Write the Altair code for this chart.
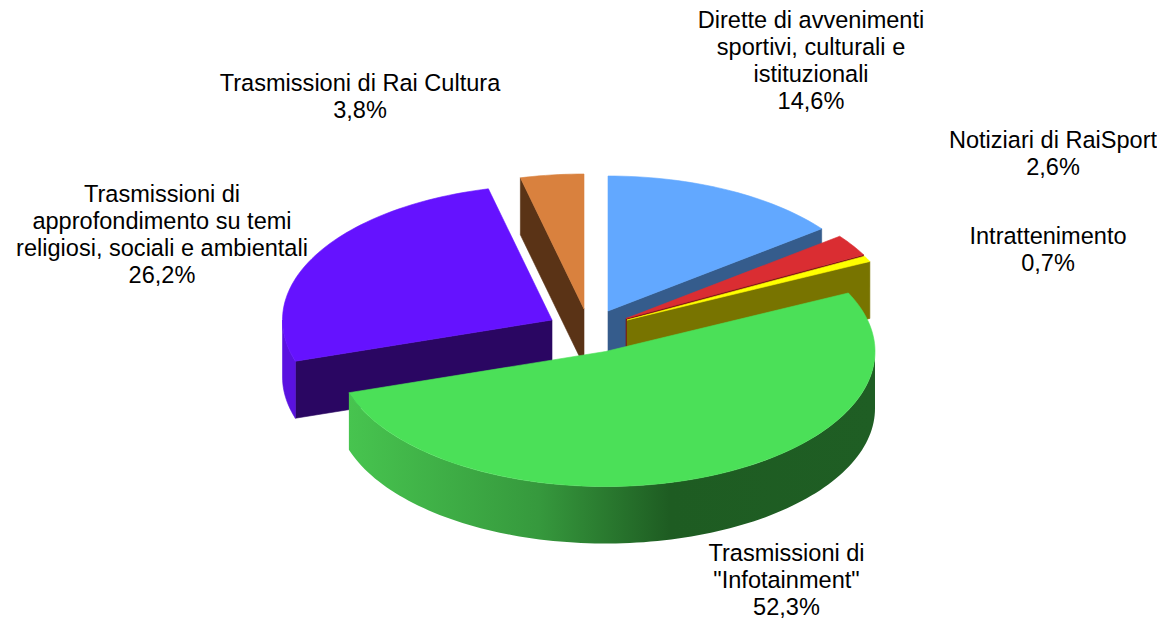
import math
import altair as alt
import pandas as pd

# ---------- data ----------
names = [
    "Dirette di avvenimenti\nsportivi, culturali e\nistituzionali",
    "Notiziari di RaiSport",
    "Intrattenimento",
    'Trasmissioni di\n"Infotainment"',
    "Trasmissioni di\napprofondimento su temi\nreligiosi, sociali e ambientali",
    "Trasmissioni di Rai Cultura",
]
shares = [14.6, 2.6, 0.7, 52.3, 26.2, 3.8]

# ---------- layout (page pixels) ----------
W, H = 1149, 611
RX, RY, DEPTH = 269.5, 135, 57
apex = [(608, 311), (626, 318.5), (627, 320), (605.5, 351.5), (552, 320), (584, 309)]
top_col = ["#62A8FF", "#DA2D32", "#FFFF00", "#4BE058", "#6512FF", "#D9813E"]
cut_col = ["#355C8C", "#7A0F14", "#787400", "#1F5E24", "#2A0662", "#5A3316"]
label_xy = [(811, 8.5), (1053, 129), (1048, 225), (786.5, 542), (162, 183), (360, 72)]

green_grad = alt.Gradient(
    gradient="linear", x1=0, x2=1, y1=0, y2=0,
    stops=[
        alt.GradientStop(color="#47C44F", offset=0),
        alt.GradientStop(color="#36993D", offset=0.36),
        alt.GradientStop(color="#1E5C22", offset=0.61),
        alt.GradientStop(color="#1F5E24", offset=1),
    ],
)

# ---------- slice angles ----------
angles = []
run = 0.0
total = sum(shares)
for s in shares:
    angles.append((run / total * 360, (run + s) / total * 360))
    run += s


def rim(i, deg, dy=0.0):
    a = math.radians(deg)
    return (apex[i][0] + RX * math.sin(a), apex[i][1] - RY * math.cos(a) + dy)


def arc(i, a0, a1, dy=0.0):
    n = max(2, int(abs(a1 - a0) / 1.5) + 2)
    return [rim(i, a0 + (a1 - a0) * k / (n - 1), dy) for k in range(n)]


def top_poly(i):
    return [apex[i]] + arc(i, *angles[i]) + [apex[i]]


def cut_poly(i, deg):
    p, q = apex[i], rim(i, deg)
    return [p, q, (q[0], q[1] + DEPTH), (p[0], p[1] + DEPTH), p]


def wall_poly(i, a0, a1):
    pts = arc(i, a0, a1) + arc(i, a1, a0, DEPTH)
    return pts + [pts[0]]


x_scale = alt.Scale(domain=[8, 8 + W], nice=False, zero=False)
y_scale = alt.Scale(domain=[8 + H, 8], nice=False, zero=False)


def piece(pts, fill, line_width=0.6):
    df = pd.DataFrame({"px": [p[0] for p in pts], "py": [p[1] for p in pts], "k": range(len(pts))})
    opts = dict(fill=fill, strokeWidth=line_width)
    if isinstance(fill, str):
        opts["stroke"] = fill
    return alt.Chart(df).mark_line(**opts).encode(
        x=alt.X("px:Q", scale=x_scale, axis=None),
        y=alt.Y("py:Q", scale=y_scale, axis=None),
        order=alt.Order("k:Q"),
    )


layers = []
# Rai Cultura: left cut face + top
layers += [piece(cut_poly(5, angles[5][0]), cut_col[5]), piece(top_poly(5), top_col[5])]
# Approfondimento: cut face, outer wall, top
layers += [
    piece(cut_poly(4, angles[4][0]), cut_col[4]),
    piece(wall_poly(4, angles[4][0], 270), "#5A12E0"),
    piece(top_poly(4), top_col[4]),
]
# Dirette, RaiSport, Intrattenimento: lower cut face + top
for i in (0, 1, 2):
    layers += [piece(cut_poly(i, angles[i][1]), cut_col[i]), piece(top_poly(i), top_col[i])]
# Infotainment: outer wall with gradient + top
layers.append(piece(wall_poly(3, 90, angles[3][1]), green_grad, 0))
layers.append(piece(top_poly(3), top_col[3]))

# ---------- labels ----------
labels = pd.DataFrame({
    "text": [f"{n}\n{str(s).replace('.', ',')}%" for n, s in zip(names, shares)],
    "lx": [p[0] for p in label_xy],
    "ly": [p[1] for p in label_xy],
})
layers.append(
    alt.Chart(labels).mark_text(
        font="Liberation Sans", fontSize=23.55, color="#000000", align="center",
        baseline="top", lineBreak="\n", lineHeight=27,
    ).encode(
        x=alt.X("lx:Q", scale=x_scale, axis=None),
        y=alt.Y("ly:Q", scale=y_scale, axis=None),
        text="text:N",
    )
)

chart = alt.layer(*layers).properties(
    width=W, height=H, padding=0, autosize=alt.AutoSizeParams(type="none"),
    background="white",
).configure_view(stroke=None)

chart.save("out.html", embed_options={"renderer": "svg", "actions": False})
